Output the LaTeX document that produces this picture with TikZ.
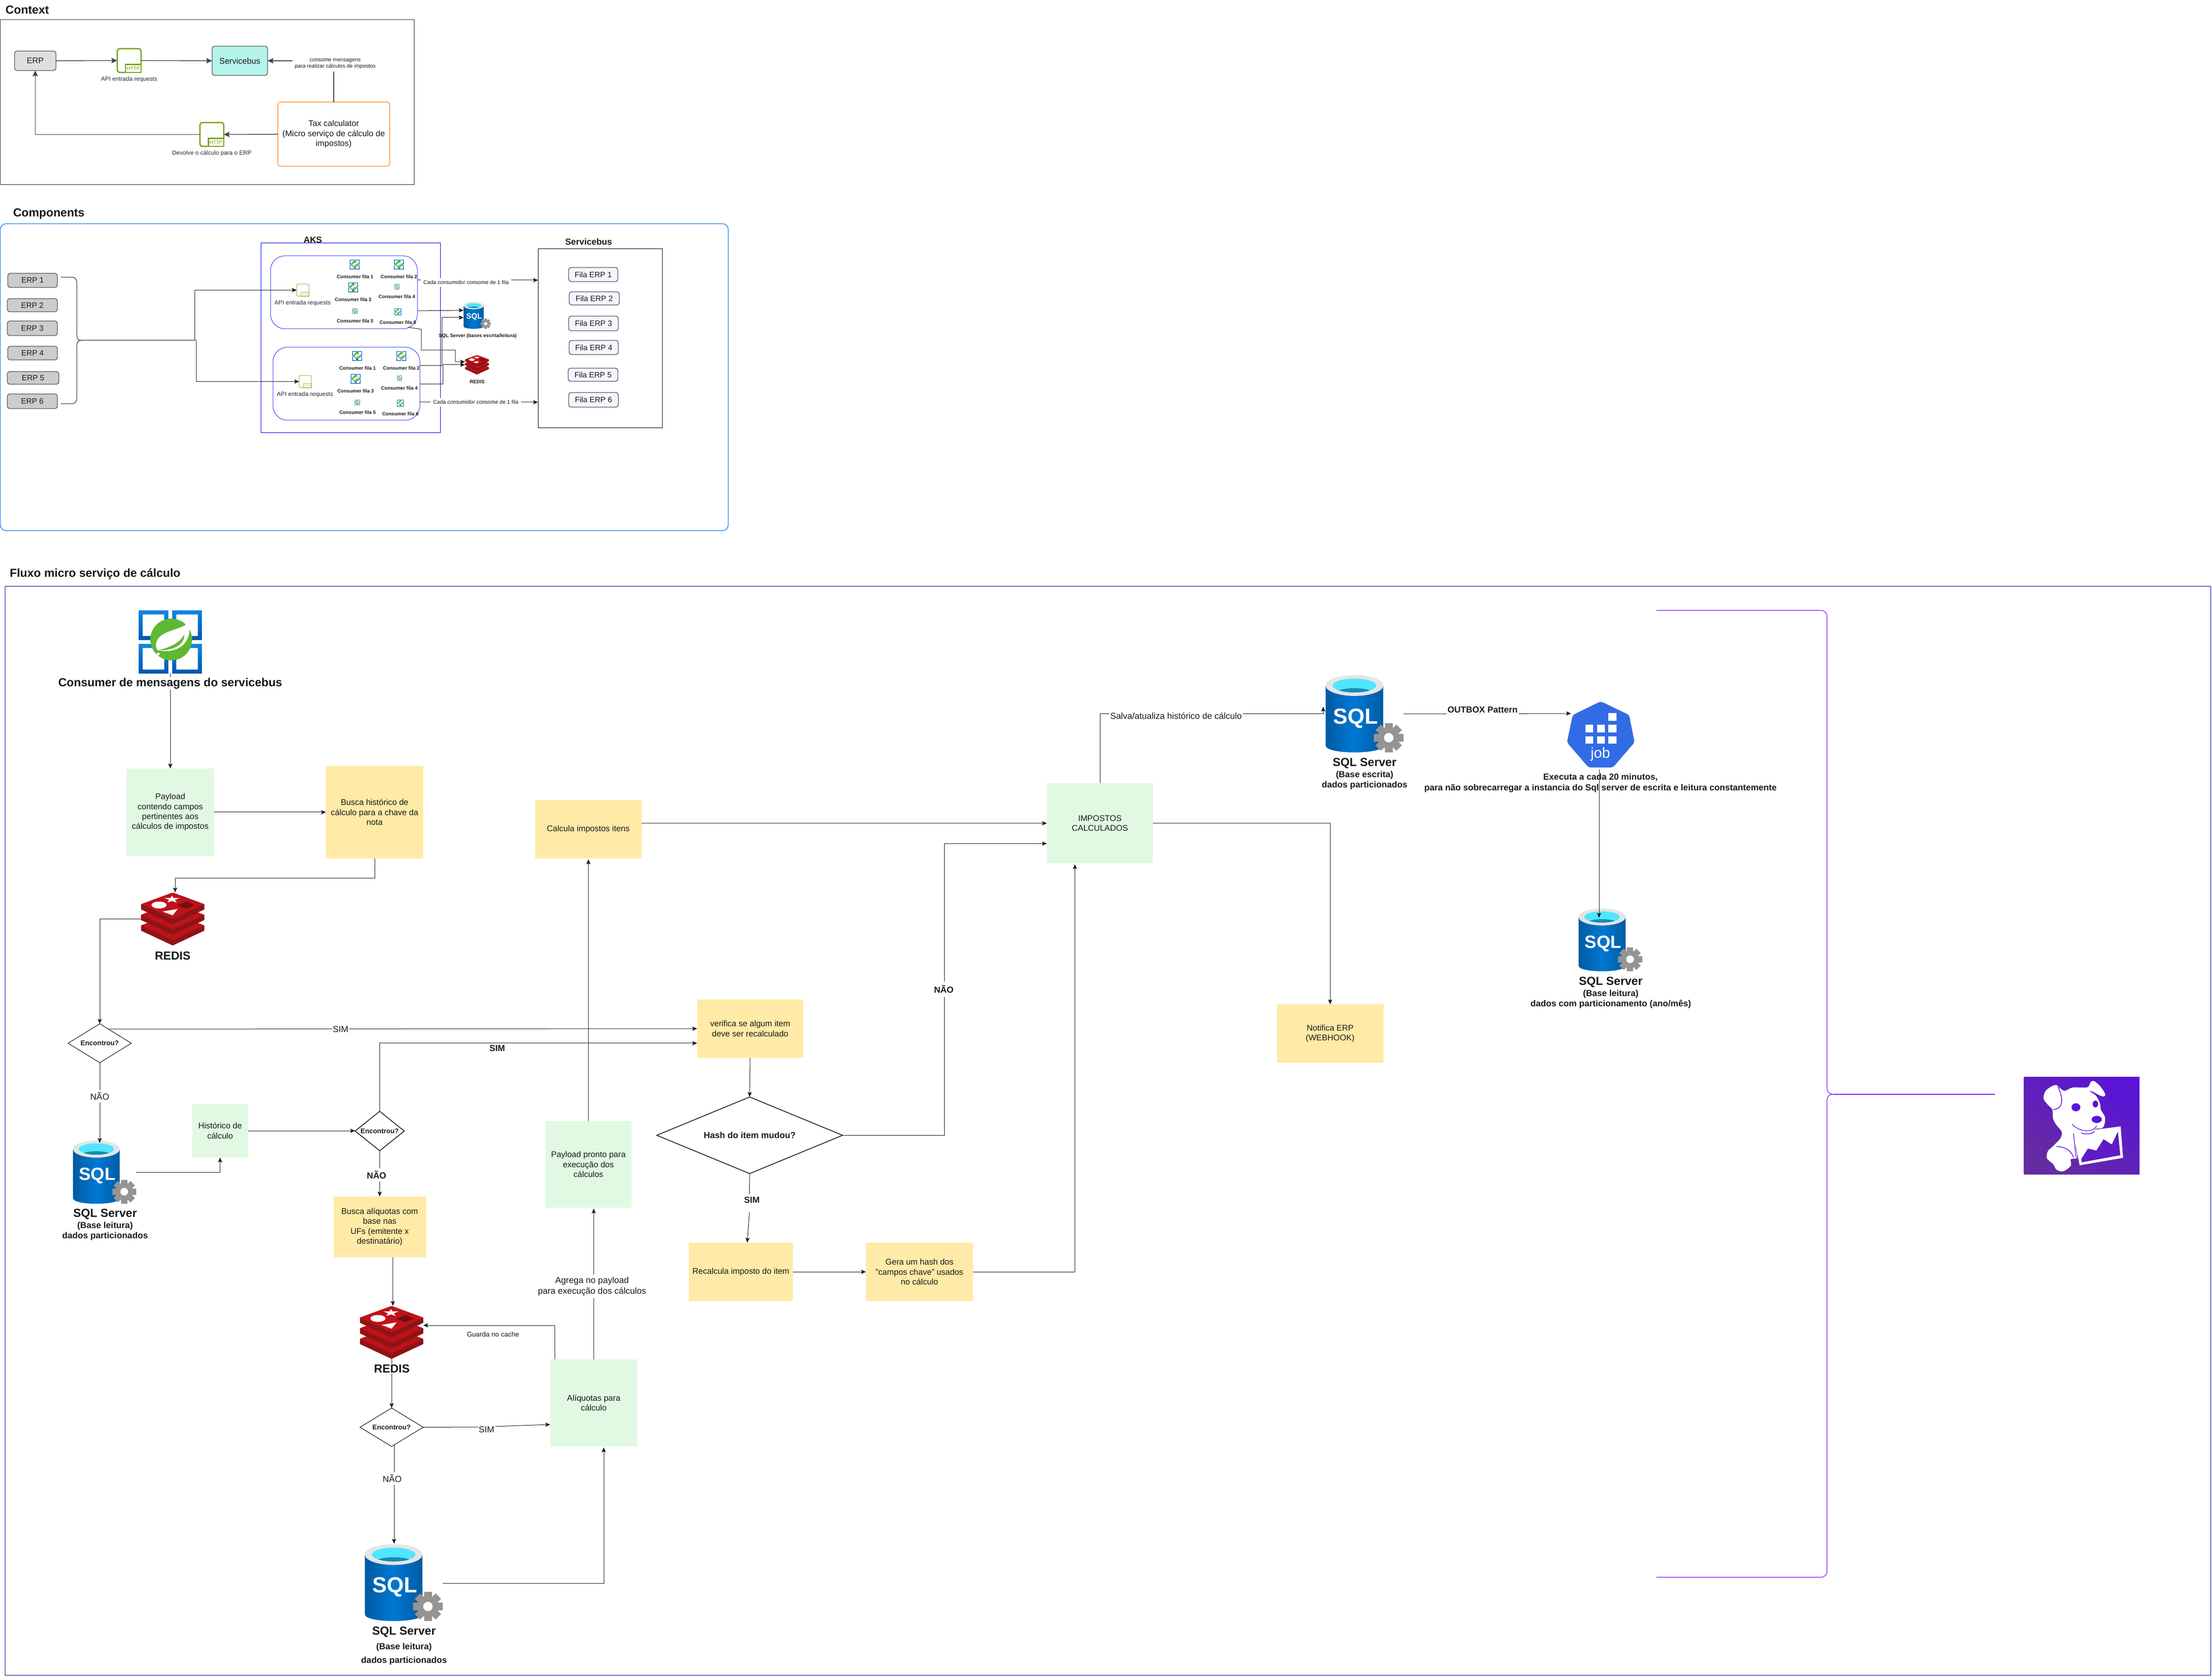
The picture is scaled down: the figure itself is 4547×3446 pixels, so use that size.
\documentclass[tikz,border=0pt]{standalone}
\usepackage{fontspec}
\setmainfont{Liberation Sans}
\usetikzlibrary{arrows.meta,shapes.geometric,calc}
\definecolor{ink}{HTML}{1A1A1A}
\definecolor{slate}{HTML}{4B5563}
\definecolor{awsink}{HTML}{232F3E}
\definecolor{hgreen}{HTML}{7AA116}
\definecolor{boxg}{HTML}{E1F9E2}
\definecolor{boxy}{HTML}{FFEAA7}
\definecolor{sqlD}{HTML}{005BA1}
\definecolor{sqlM}{HTML}{0078D4}
\definecolor{sqlC}{HTML}{50E6FF}
\definecolor{sqlW}{HTML}{198AB3}
\definecolor{gearc}{HTML}{949494}
\definecolor{redA}{HTML}{BF1219}
\definecolor{redB}{HTML}{8C1417}
\definecolor{jobb}{HTML}{326CE5}
\definecolor{purp}{HTML}{7F00FF}
\definecolor{dogA}{HTML}{5A14D6}
\definecolor{dogB}{HTML}{662BA0}
\definecolor{sprT}{HTML}{0F86E3}
\definecolor{sprB}{HTML}{0055B0}
\definecolor{sprG}{HTML}{5FB832}
\definecolor{sbfill}{HTML}{B4F4EA}
\definecolor{taxor}{HTML}{FF9A3C}
\definecolor{compb}{HTML}{007FFF}
\definecolor{flowb}{HTML}{00008C}
\newcommand{\fpx}[1]{\pgfmathsetmacro\fa{#1*.2}\pgfmathsetmacro\fb{#1*.24}\fontsize{\fa pt}{\fb pt}\selectfont}
\newcommand{\bx}[7]{\node[#2,minimum width={(#5-(#3))*.2pt},minimum height={(#6-(#4))*.2pt}] (#1) at ({(#3+#5)/2},{(#4+#6)/2}) {#7};}
\newcommand{\lbl}[5]{\node[#2] (#1) at (#3,#4) {#5};}
\tikzset{
 every node/.style={inner sep=0pt,outer sep=0pt,align=center,text=ink},
 txt/.style={font=\fpx{#1}},
 txtb/.style={font=\fpx{#1}\bfseries},
 inv/.style={rectangle},
 erpbox/.style={rectangle,draw=slate,line width=.28pt,rounded corners=1pt,txt=16},
 filabox/.style={rectangle,draw=slate,fill=blue!4,line width=.28pt,rounded corners=1pt,txt=16},
 gbox/.style={rectangle,fill=boxg,txt=17},
 ybox/.style={rectangle,fill=boxy,txt=17},
 dec/.style={diamond,draw=black,line width=.2pt,txtb=14},
 lab/.style={fill=white,inner sep=.3pt},
 ln/.style={line width=.2pt,draw=ink},
 arr/.style={ln,-{Stealth[length=2pt,width=1.7pt,inset=.4pt]}},
 arrC/.style={line width=.3pt,draw=slate!80!black,-{Stealth[length=2.4pt,width=2.2pt,inset=.4pt]}},
}
% HTTP endpoint icon: name x y w h opacity
\newcommand{\httpicon}[6]{%
 \bx{#1}{inv}{#2}{#3}{#2+#4}{#3+#5}{}
 \pgfmathsetmacro\hlw{#4*.011}\pgfmathsetmacro\hfs{#4*.042}%
 \begin{scope}[shift={(#2,#3)},xscale=#4,yscale=#5,opacity=#6]
  \draw[hgreen,line width=\hlw pt] (.33,1) -- (.14,1) .. controls (.05,1) and (0,.96) .. (0,.9) -- (0,.1) .. controls (0,.04) and (.05,0) .. (.14,0) -- (.86,0) .. controls (.95,0) and (1,.04) .. (1,.1) -- (1,.65);
  \draw[hgreen,line width=\hlw pt] (.35,.66) rectangle (1,1);
  \node[text=hgreen,font=\fontsize{\hfs pt}{\hfs pt}\selectfont] (#1-t) at (.675,.83) {HTTP};
 \end{scope}}
% SQL icon: name x y w h
\newcommand{\sqlicon}[5]{%
 \bx{#1}{inv}{#2}{#3}{#2+#4}{#3+#5}{}
 \pgfmathsetmacro\sfs{#4*.056}%
 \begin{scope}[shift={(#2,#3)},xscale=#4,yscale=#5]
  \shade[left color=sqlD,right color=sqlD,middle color=sqlM] (0,.135) -- (0,.91) .. controls (0,.97) and (.18,1) .. (.37,1) .. controls (.56,1) and (.74,.97) .. (.74,.91) -- (.74,.135) -- cycle;
  \fill[gray!20] (.37,.135) ellipse [x radius=.37,y radius=.135];
  \fill[sqlC] (.37,.135) ellipse [x radius=.28,y radius=.09];
  \begin{scope}
   \clip (.37,.135) ellipse [x radius=.28,y radius=.09];
   \fill[sqlW] (.37,.225) ellipse [x radius=.23,y radius=.055];
  \end{scope}
  \node[text=white,font=\fontsize{\sfs pt}{\sfs pt}\selectfont\bfseries] (#1-t) at (.385,.56) {SQL};
  \begin{scope}[shift={(.81,.81)},scale=.19]
   \foreach \a in {0,45,...,315} {\fill[gearc,rotate=\a] (-.26,-1) rectangle (.26,-.6);}
   \fill[gearc] (0,0) circle (.74);
   \fill[white] (0,0) circle (.32);
  \end{scope}
 \end{scope}}
% Redis icon
\newcommand{\redisicon}[5]{%
 \bx{#1}{inv}{#2}{#3}{#2+#4}{#3+#5}{}
 \begin{scope}[shift={(#2,#3)},xscale=#4,yscale=#5]
  \foreach \d in {.4,.2,0} {
   \fill[redB] (0,.22+\d) -- (0,.32+\d) -- (.5,.6+\d) -- (1,.32+\d) -- (1,.22+\d) -- cycle;
   \fill[redA,rounded corners=.3pt] (.5,\d) -- (1,.22+\d) -- (.5,.5+\d) -- (0,.22+\d) -- cycle;
  }
  \fill[white] (.284,.237) ellipse [x radius=.12,y radius=.065];
  \fill[white] (.49,.06) -- (.515,.105) -- (.61,.105) -- (.535,.14) -- (.565,.19) -- (.49,.16) -- (.415,.19) -- (.445,.14) -- (.37,.105) -- (.465,.105) -- cycle;
  \fill[white] (.34,.36) -- (.58,.31) -- (.5,.43) -- cycle;
  \fill[redB!80!black] (.57,.24) -- (.72,.17) -- (.85,.24) -- (.72,.31) -- cycle;
 \end{scope}}
% Spring apps icon
\newcommand{\springicon}[5]{%
 \bx{#1}{inv}{#2}{#3}{#2+#4}{#3+#5}{}
 \begin{scope}[shift={(#2,#3)},xscale=#4,yscale=#5]
  \foreach \px/\py in {0/0,.53/0,0/.53,.53/.53} {
   \shade[top color=sprT,bottom color=sprB,even odd rule] (\px,\py) rectangle (\px+.47,\py+.47) (\px+.065,\py+.065) rectangle (\px+.405,\py+.405);
  }
  \fill[sprG] (.515,.46) ellipse [x radius=.33,y radius=.33];
  \fill[white] (.8,.17) .. controls (.72,.3) and (.45,.3) .. (.33,.42) .. controls (.26,.5) and (.26,.58) .. (.3,.63) .. controls (.5,.68) and (.86,.62) .. (.8,.17) -- cycle;
  \fill[sprG] (.72,.38) .. controls (.65,.52) and (.5,.58) .. (.32,.63) .. controls (.5,.64) and (.74,.56) .. (.72,.38) -- cycle;
 \end{scope}}
% the six consumers of a group
\newcommand{\consumers}[1]{%
 \springicon{#1c1}{719}{534}{20}{20}\lbl{#1l1}{txtb=10}{730}{569}{Consumer fila 1}
 \springicon{#1c2}{810}{534}{20}{20}\lbl{#1l2}{txtb=10}{820}{569}{Consumer fila 2}
 \springicon{#1c3}{716}{581}{20}{20}\lbl{#1l3}{txtb=10}{726}{616}{Consumer fila 3}
 \springicon{#1c4}{811}{584}{10}{11}\lbl{#1l4}{txtb=10}{816}{610}{Consumer fila 4}
 \springicon{#1c5}{724}{634}{11}{11}\lbl{#1l5}{txtb=10}{730}{660}{Consumer fila 5}
 \springicon{#1c6}{811}{634}{14}{14}\lbl{#1l6}{txtb=10}{818}{663}{Consumer fila 6}
}
\begin{document}
\begin{tikzpicture}[x=.2pt,y=-.2pt]
\useasboundingbox (0,0) rectangle (4547,3446);
\fill[white] (0,0) rectangle (4547,3446);

% ================= Context
\lbl{tCtx}{txtb=24}{56}{20}{Context}
\bx{frCtx}{rectangle,draw=black!85,line width=.2pt}{0.5}{40.5}{851}{380}{}
\bx{erpC}{rectangle,draw=slate,fill=gray!25,line width=.28pt,rounded corners=1pt,txt=17}{30}{105}{115}{145}{ERP}
\httpicon{httpA}{241}{100}{49}{49}{1}
\lbl{lHttpA}{txt=12.3,text=awsink}{265.5}{163}{API entrada requests}
\bx{sbC}{rectangle,draw=slate,fill=sbfill,line width=.28pt,rounded corners=1pt,txt=17}{436}{95}{550}{155}{Servicebus}
\bx{taxC}{rectangle,draw=taxor,fill=white,line width=.3pt,rounded corners=1pt,txt=17}{571}{210}{801}{342}{Tax calculator\\(Micro serviço de cálculo de\\impostos)}
\httpicon{httpB}{411}{252}{49}{49}{1}
\lbl{lHttpB}{txt=12.3,text=awsink}{435.5}{315}{Devolve o cálculo para o ERP}
\draw[arrC] (erpC.east) -- (httpA.west);
\draw[arrC] (httpA.east) -- (sbC.west);
\draw[arrC] (taxC.north) |- (sbC.east);
\draw[arrC] (taxC.west) -- (httpB.east);
\draw[arrC] (httpB.west) -| (erpC.south);
\lbl{lCons}{txt=11,lab,inner sep=1pt}{689}{131}{consome mensagens\\para realizar cálculos de impostos}

% ================= Components
\lbl{tComp}{txtb=24}{100.5}{440}{Components}
\bx{frComp}{rectangle,draw=compb,line width=.26pt,rounded corners=2.4pt}{0.5}{460}{1497}{1091}{}
\lbl{tAks}{txtb=18}{643}{493}{AKS}
\bx{aks}{rectangle,draw=blue,line width=.2pt}{536}{500}{905}{890}{}
\bx{grpA}{rectangle,draw=blue!80,line width=.2pt,rounded corners=6pt}{556}{526}{858}{676}{}
\bx{grpB}{rectangle,draw=blue!80,line width=.2pt,rounded corners=6pt}{561}{714}{863}{864}{}
\bx{erp1}{erpbox,fill=gray!40}{16}{562}{118}{591}{ERP 1}
\bx{erp2}{erpbox,fill=gray!40}{15}{614}{118}{641}{ERP 2}
\bx{erp3}{erpbox,fill=gray!40}{15}{660}{118}{690}{ERP 3}
\bx{erp4}{erpbox,fill=gray!40}{16}{712}{118}{740}{ERP 4}
\bx{erp5}{erpbox,fill=gray!40}{15}{764}{121}{790}{ERP 5}
\bx{erp6}{erpbox,fill=gray!40}{15}{810}{118}{840}{ERP 6}
\coordinate (brT) at (125,570);
\coordinate (brB) at (125,830);
\coordinate (brTip) at (166,700);
\coordinate (brJ) at (403,700);
\draw[ln,draw=slate!80!black,line width=.26pt] (brT) -- (148,570) .. controls (156,570) and (158,576) .. (158,584) -- (158,688) .. controls (158,696) and (160,700) .. (brTip) .. controls (160,700) and (158,704) .. (158,712) -- (158,816) .. controls (158,824) and (156,830) .. (148,830) -- (brB);
\draw[ln] (brTip) -- (brJ);
\httpicon{apiA}{610}{584}{25}{25}{.65}
\httpicon{apiB}{615}{772}{25}{25}{.65}
\lbl{lApiA}{txt=12.3,text=awsink}{622}{623}{API entrada requests}
\lbl{lApiB}{txt=12.3,text=awsink}{627}{811}{API entrada requests}
\draw[arr] (400,700) |- (apiA.west);
\draw[arr] (brJ) |- (apiB.west);
\consumers{ga}
\begin{scope}[shift={(5,188)}]
\consumers{gb}
\end{scope}
\sqlicon{sqlB}{953}{621}{56}{55}
\lbl{lSqlB}{txtb=10}{982}{691}{SQL Server (bases escrita/leitura)}
\redisicon{rdC}{956}{730}{49}{40}
\lbl{lRdC}{txtb=10}{981}{785}{REDIS}
\lbl{tSb}{txtb=18}{1210}{497}{Servicebus}
\bx{sbRect}{rectangle,draw=black,line width=.2pt}{1106}{512}{1361}{880}{}
\bx{f1}{filabox}{1169}{550}{1270}{579}{Fila ERP 1}
\bx{f2}{filabox}{1170}{600}{1273}{627}{Fila ERP 2}
\bx{f3}{filabox}{1169}{650}{1271}{680}{Fila ERP 3}
\bx{f4}{filabox}{1170}{700}{1271}{729}{Fila ERP 4}
\bx{f5}{filabox}{1168}{757}{1270}{784}{Fila ERP 5}
\bx{f6}{filabox}{1169}{807}{1271}{837}{Fila ERP 6}
\draw[arr] (grpA.east |- 0,576) -- (sbRect.west |- 0,576);
\draw[arr] (grpB.east |- 0,827) -- (sbRect.west |- 0,827);
\draw[arr] (grpA.east |- 0,639) -- (sqlB.west |- 0,638);
\draw[arr] (grpB.east |- 0,752) -- (908,752) -- (908,653) -- (sqlB.west |- 0,653);
\coordinate (gaS) at (839,673);
\draw[arr] (gaS) -- (866,677) -- (866,720) -- (936,720) -- (936,744) -- (rdC.west |- 0,744);
\draw[arr] (grpB.east |- 0,790) -- (910,790) -- (910,750) -- (rdC.west |- 0,750);
\lbl{lConsA}{txt=11,lab,inner sep=1pt}{958}{581}{Cada consumidor consome de 1 fila}
\lbl{lConsB}{txt=11,lab,inner sep=1pt}{978}{827}{Cada consumidor consome de 1 fila}

% ================= Flow
\lbl{tFlow}{txtb=24}{195.5}{1180}{Fluxo micro serviço de cálculo}
\bx{frFlow}{rectangle,draw=flowb,line width=.2pt}{10}{1206}{4544}{3444}{}

\springicon{spring}{285}{1255}{130}{130}
\fill[white] (.31*130+285,.69*130+1255) circle (3);
\bx{payload}{gbox}{260}{1580}{440}{1760}{Payload\\contendo campos\\pertinentes aos\\cálculos de impostos}
\bx{buscaH}{ybox}{670}{1575}{870}{1765}{Busca histórico de\\cálculo para a chave da\\nota}
\redisicon{rdA}{290}{1835}{130}{109}
\bx{dA}{dec,shape aspect=1.625}{140}{2105}{270}{2185}{Encontrou?}
\sqlicon{sqlA}{150}{2345}{130}{130}
\bx{hist}{gbox}{395}{2270}{510}{2380}{Histórico de\\cálculo}
\bx{dB}{dec,line width=.28pt,shape aspect=1.25}{730}{2285}{831}{2366}{Encontrou?}
\bx{buscaA}{ybox}{685.5}{2460}{875.5}{2585}{Busca alíquotas com\\base nas\\UFs (emitente x\\destinatário)}
\redisicon{rdB}{740}{2685}{130}{109}
\bx{dC}{dec,shape aspect=1.625}{740}{2895}{870}{2974}{Encontrou?}
\bx{aliq}{gbox}{1131}{2795}{1310}{2974}{Alíquotas para\\cálculo}
\sqlicon{sqlC}{750}{3175}{160}{158}
\bx{pronto}{gbox}{1121}{2305}{1298}{2483}{Payload pronto para\\execução dos\\cálculos}
\bx{calc}{ybox}{1100}{1645}{1318.5}{1765}{Calcula impostos itens}
\bx{verif}{ybox}{1433}{2055}{1651}{2175}{verifica se algum item\\deve ser recalculado}
\bx{hash}{diamond,draw=black,line width=.28pt,shape aspect=2.42,txtb=18}{1350}{2255.5}{1732}{2413}{Hash do item mudou?}
\bx{recalc}{ybox}{1416}{2555}{1630}{2675}{Recalcula imposto do item}
\bx{gera}{ybox}{1780}{2555}{2000}{2675}{Gera um hash dos\\"campos chave" usados\\no cálculo}
\bx{imp}{gbox}{2152}{1610}{2370}{1775.5}{IMPOSTOS\\CALCULADOS}
\bx{notif}{ybox}{2625}{2065}{2843.5}{2185}{Notifica ERP\\(WEBHOOK)}
\sqlicon{sqlD}{2725}{1388}{160}{159}
\sqlicon{sqlE}{3245}{1868}{130.5}{129}
% job icon
\bx{job}{inv}{3221}{1442}{3360}{1578}{}
\begin{scope}[shift={(3221,1442)},xscale=139,yscale=136]
 \fill[jobb,rounded corners=1pt] (.5,0) -- (.92,.207) -- (1,.62) -- (.68,1) -- (.32,1) -- (0,.62) -- (.085,.207) -- cycle;
 \foreach \qx/\qy in {.614/.18,.275/.353,.444/.353,.614/.353,.275/.526,.444/.526,.614/.526} {\fill[white] (\qx,\qy) rectangle (\qx+.116,\qy+.117);}
 \node[text=white,txt=30] (jobT) at (.495,.8) {job};
\end{scope}

% connectors
\draw[arr] (spring.south) -- (payload.north);
\draw[arr] (payload.east) -- (buscaH.west);
\draw[arr] (buscaH.south) -- (buscaH.south |- 0,1806) -- (360,1806) -- (rdA.north -| 360,0);
\draw[arr] (rdA.west |- 0,1890) -- (205,1890) -- (dA.north);
\coordinate (dAs) at (222,2116);
\draw[arr] (dAs) -- (verif.west |- 0,2115);
\draw[arr] (dA.south) -- (dA.south |- 0,2350);
\draw[arr] (sqlA.east |- 0,2410.5) -| (hist.south);
\draw[arr] (hist.east) -- (dB.west |- hist.east) ;
\draw[arr] (dB.north) |- (verif.west |- 0,2145);
\draw[arr] (dB.south) -- (buscaA.north -| dB.south);
\draw[arr] (807.5,0 |- buscaA.south) -- (807.5,0 |- rdB.north);
\draw[arr] (rdB.south) -- (dC.north);
\draw[arr] (dC.east) -- (985,2934) -- (aliq.west |- 0,2929);
\coordinate (dCs) at (810,2970);
\draw[arr] (dCs) -- (810,3174);
\draw[arr] (sqlC.east |- 0,3255) -| (1241,2976);
\draw[arr] (1140.5,0 |- aliq.north) |- (rdB.east |- 0,2725);
\draw[arr] (aliq.north) -- (aliq.north |- 0,2485);
\draw[arr] (pronto.north) -- (pronto.north |- 0,1767);
\draw[arr] (calc.east |- imp.west) -- (imp.west);
\draw[arr] (verif.south) -- (hash.north);
\draw[arr] (hash.east) -- (1941.6,0 |- hash.east) |- (imp.west |- 0,1734.5);
\draw[ln] (hash.south) -- (1540.5,2455);
\draw[arr] (1540.5,2493) -- (1536,2555);
\draw[arr] (recalc.east) -- (gera.west);
\draw[arr] (gera.east) -| (2209.6,1777);
\draw[arr] (imp.north) |- (2720,1468) -- (2720,1453);
\draw[arr] (imp.east) -| (notif.north);
\draw[arr] (sqlD.east |- 0,1468) -- (3229.5,1467);
\draw[arr] (3287,1582) -- (3287,1887);

% text on the flow
\lbl{lSpring}{txtb=24,lab}{350}{1405}{Consumer de mensagens do servicebus}
\lbl{lRdA}{txtb=24,lab}{355}{1965}{REDIS}
\lbl{lSim1}{txt=18,lab}{700}{2116}{SIM}
\lbl{lNao1}{txt=18,lab,inner sep=1pt}{205}{2254}{NÃO}
\lbl{lSqlA1}{txtb=24}{216}{2496}{SQL Server}
\lbl{lSqlA2}{txtb=18}{216}{2531.5}{(Base leitura)\\dados particionados}
\lbl{lSim2}{txtb=18}{1022}{2155}{SIM}
\lbl{lNao2}{txtb=18,lab,inner sep=1pt}{774}{2415.5}{NÃO}
\lbl{lRdB}{txtb=24,lab}{805.5}{2814}{REDIS}
\lbl{lGuarda}{txt=14}{1013.5}{2743}{Guarda no cache}
\lbl{lSim3}{txt=18,lab}{1000}{2939}{SIM}
\lbl{lNao3}{txt=18,lab,inner sep=1pt}{806}{3040}{NÃO}
\lbl{lSqlC1}{txtb=24}{830.5}{3355}{SQL Server}
\lbl{lSqlC2}{txtb=18}{830.5}{3387}{(Base leitura)}
\lbl{lSqlC3}{txtb=18}{830.5}{3415}{dados particionados}
\lbl{lAgrega}{txt=18,lab,inner sep=1pt}{1217}{2645}{Agrega no payload\\para execução dos cálculos}
\lbl{lNao4}{txtb=18,lab,inner sep=1.5pt}{1940}{2034}{NÃO}
\lbl{lSim4}{txtb=18}{1545.5}{2467}{SIM}
\lbl{lSalva}{txt=18,lab,inner sep=.5pt}{2417.5}{1472}{Salva/atualiza histórico de cálculo}
\lbl{lSqlD1}{txtb=24}{2805}{1569}{SQL Server}
\lbl{lSqlD2}{txtb=18}{2805}{1604.5}{(Base escrita)\\dados particionados}
\lbl{lOutbox}{txtb=18,lab,inner sep=.5pt}{3047.5}{1459}{OUTBOX Pattern}
\lbl{lExec}{txtb=18}{3290}{1610}{Executa a cada 20 minutos,\\para não sobrecarregar a instancia do Sql server de escrita e leitura constantemente}
\lbl{lSqlE1}{txtb=24}{3311}{2019}{SQL Server}
\lbl{lSqlE2}{txtb=18}{3311}{2054.5}{(Base leitura)\\dados com particionamento (ano/mês)}

% purple brace
\coordinate (pT) at (3405,1255);
\coordinate (pB) at (3405,3243);
\coordinate (pTip) at (3768,2250);
\coordinate (pE) at (4101,2250);
\draw[purp,line width=.22pt] (pT) -- (3742,1255) .. controls (3751,1255) and (3755.5,1260) .. (3755.5,1268) -- (3755.5,2236) .. controls (3755.5,2245) and (3760,2250) .. (pTip) .. controls (3760,2250) and (3755.5,2255) .. (3755.5,2264) -- (3755.5,3230) .. controls (3755.5,3238) and (3751,3243) .. (3742,3243) -- (pB);
\draw[purp,line width=.3pt] (pTip) -- (pE);

% dog
\bx{dog}{inv}{4160.5}{2215}{4398}{2415}{}
\begin{scope}[shift={(3350,2100)},xscale=.7018,yscale=.3333]
 \shade[shading=axis,left color=dogA,right color=dogB,shading angle=-35] (1155,345) rectangle (1493,945);
 \fill[white] plot[smooth cycle,tension=.55] coordinates {(1250,393) (1262,415) (1275,428) (1298,408) (1340,407) (1350,375) (1360,368) (1378,400) (1392,445) (1390,463) (1378,458) (1352,430) (1368,465) (1378,510) (1380,545) (1392,590) (1390,640) (1382,660) (1368,662) (1340,682) (1310,690) (1305,760) (1310,840) (1292,850) (1292,890) (1270,925) (1250,915) (1240,880) (1222,845) (1225,800) (1240,770) (1262,720) (1265,680) (1250,640) (1240,600) (1238,545) (1225,515) (1212,475) (1218,430) (1235,402)};
 \fill[white] (1298,686) -- (1438,648) -- (1445,842) -- (1318,888) -- cycle;
 \fill[dogA!70!dogB] (1323,848) -- (1342,785) -- (1367,797) -- (1388,727) -- (1412,760) -- (1430,680) -- (1437,826) -- (1323,870) -- cycle;
 \draw[dogA,line width=.25pt] (1300,690) -- (1307,838);
 \draw[dogA,line width=.25pt] (1296,635) .. controls (1310,670) and (1350,700) .. (1368,645);
 \draw[dogA,line width=.3pt] (1322,688) .. controls (1335,700) and (1355,695) .. (1362,678);
 \draw[dogA,line width=.3pt] (1254,402) .. controls (1270,470) and (1272,540) .. (1240,545);
 \draw[dogA,line width=.3pt] (1250,772) .. controls (1280,775) and (1292,800) .. (1300,838);
 \draw[dogA,line width=.25pt] (1348,430) -- (1365,452);
 \fill[dogA] (1307,530) ellipse [x radius=13,y radius=25];
 \fill[dogA] (1364,510) ellipse [x radius=8,y radius=21];
 \fill[dogA] (1368,605) ellipse [x radius=15,y radius=22];
\end{scope}
\end{tikzpicture}
\end{document}
